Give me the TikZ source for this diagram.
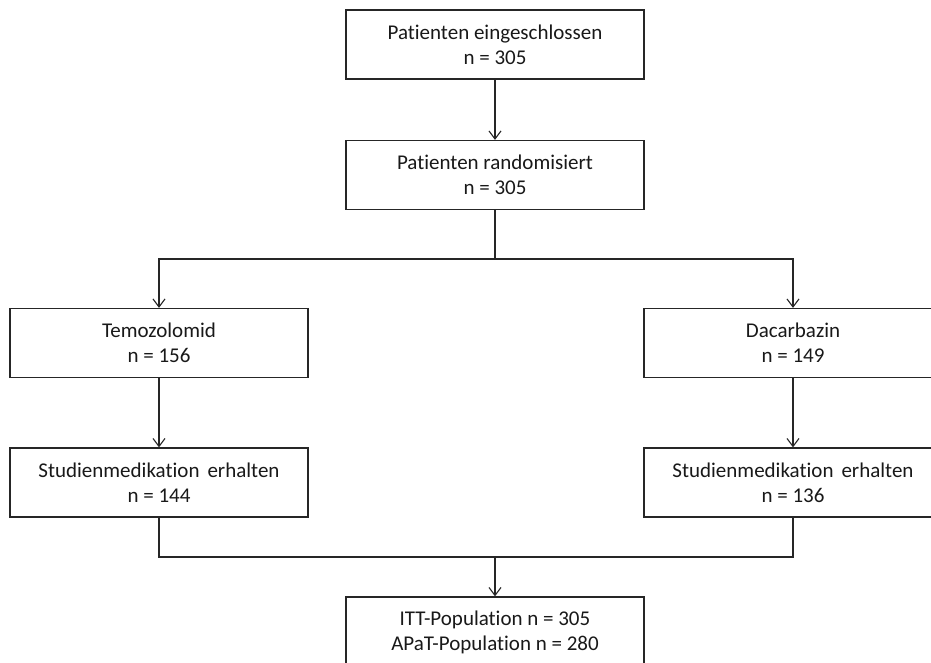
\documentclass[tikz,border=0pt]{standalone}
\usepackage{fontspec}
\setmainfont{Carlito}[Ligatures=NoCommon]
\usetikzlibrary{arrows.meta}
\begin{document}
\begin{tikzpicture}[x=1pt,y=-1pt,
  box/.style={draw=black!85, line width=1.3pt, minimum width=298pt, minimum height=69pt,
    align=center, inner sep=0pt, font=\fontsize{21}{25}\selectfont, text=black!90},
  flow/.style={draw=black!85, line width=1.3pt, -{Straight Barb[length=8pt,width=12pt,line width=1.1pt]}},
  link/.style={draw=black!85, line width=1.3pt}]
\useasboundingbox (0,0) rectangle (931,663);
\clip (0,0) rectangle (931,663);
\fill[white] (0,0) rectangle (931,663);

\node[box] (ein) at (495,44.5) {Patienten eingeschlossen\\n = 305};
\node[box] (rand) at (495,175) {Patienten randomisiert\\n = 305};
\node[box] (tmz) at (159,343) {Temozolomid\\n = 156};
\node[box] (dtic) at (793,343) {Dacarbazin\\n = 149};
\node[box] (tmzs) at (159,482.5) {Studienmedikation\hspace{0.38em}erhalten\\n = 144};
\node[box] (dtics) at (793,482.5) {Studienmedikation\hspace{0.38em}erhalten\\n = 136};
\node[box, minimum height=70pt] (pop) at (495,632) {ITT-Population n = 305\\APaT-Population n = 280};

\coordinate (split) at (495,259);
\coordinate (join) at (495,557);

\draw[flow] (ein) -- (rand);
\draw[link] (rand.south) -- (split);
\draw[flow] (split) -| (tmz.north);
\draw[flow] (split) -| (dtic.north);
\draw[flow] (tmz) -- (tmzs);
\draw[flow] (dtic) -- (dtics);
\draw[link] (tmzs.south) |- (join);
\draw[link] (dtics.south) |- (join);
\draw[flow] (join) -- (pop.north);
\end{tikzpicture}
\end{document}
